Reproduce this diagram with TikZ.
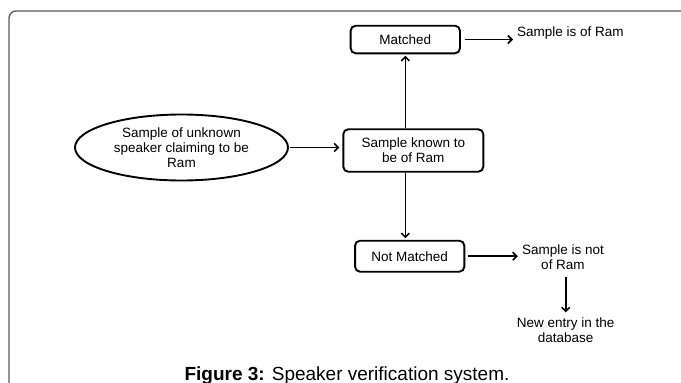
\documentclass[tikz,border=0pt]{standalone}
\usepackage{fontspec}
\setmainfont{Liberation Sans}
\usetikzlibrary{shapes.geometric,arrows.meta}
\begin{document}
\begin{tikzpicture}[x=1pt,y=-1pt,
  txt/.style={font=\fontsize{13.5}{15}\selectfont, align=center, inner sep=0pt},
  rbox/.style={txt, draw, line width=1.9pt, rounded corners=5pt},
  arr/.style={line width=1.6pt, -{Straight Barb[length=4pt,width=8pt,line width=1.6pt]}}]
\useasboundingbox (0,0) rectangle (681,383);
% frame
\draw[black!65, line width=1.3pt, rounded corners=7pt] (9,390) -- (9,11) -- (690,11);
% nodes
\node[txt, draw, ellipse, line width=1.9pt, minimum width=213pt, minimum height=66pt] (ell) at (181.5,147.5) {Sample of unknown\\speaker claiming to be\\Ram};
\node[rbox, minimum width=140pt, minimum height=42.5pt] (known) at (413.3,150.5) {Sample known to\\be of Ram};
\node[rbox, minimum width=109.3pt, minimum height=27.6pt] (matched) at (405.3,39.5) {Matched};
\node[rbox, minimum width=109.3pt, minimum height=31pt] (notm) at (409.7,256.2) {Not Matched};
\node[txt, anchor=west] (ofram) at (517,33.3) {Sample is of Ram};
\node[txt] (notof) at (563,257) {Sample is not\\of Ram};
\node[txt] (newentry) at (565.7,330) {New entry in the\\database};
\node[font=\fontsize{19}{22}\selectfont, inner sep=0pt, anchor=base] (cap) at (347,380) {\textbf{Figure 3:} Speaker verification system.};
% connectors
\draw[arr, shorten <=1.5pt, shorten >=3pt] (ell.east) -- (ell.east -| known.west);
\draw[arr, shorten >=1.5pt] (matched.south |- known.north) -- (matched.south);
\draw[arr, shorten >=1.5pt] (matched.south |- known.south) -- (matched.south |- notm.north);
\draw[arr, shorten <=4pt, shorten >=4pt] (matched.east) -- (matched.east -| ofram.west);
\draw[arr, shorten <=2.5pt, shorten >=4pt] (notm.east) -- (notm.east -| notof.west);
\draw[arr, shorten <=7pt, shorten >=5pt] (notof.south -| newentry.north) -- (newentry.north);
\end{tikzpicture}
\end{document}
